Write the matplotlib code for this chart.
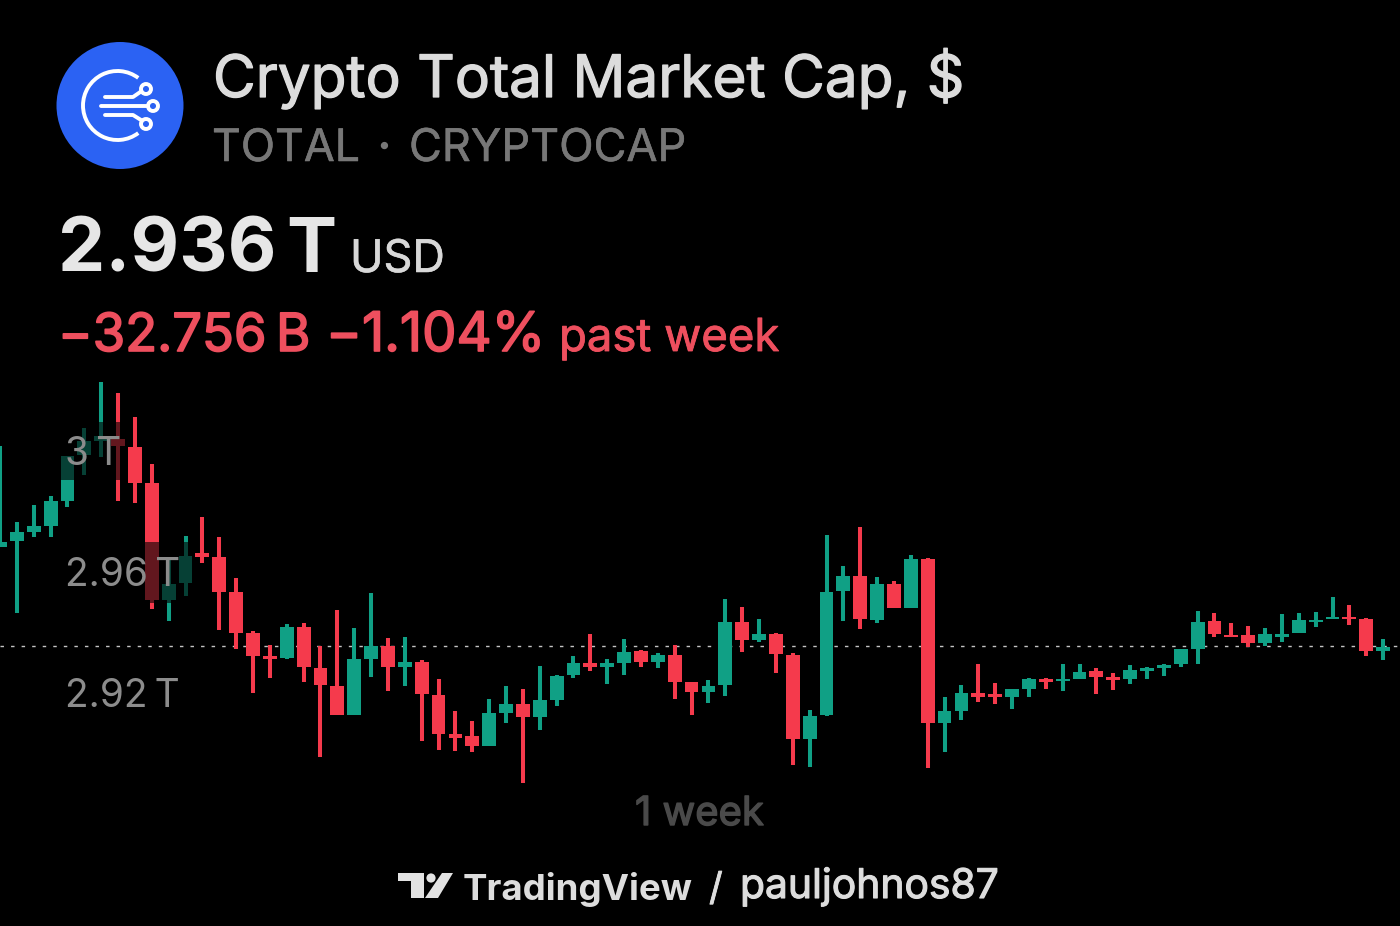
import matplotlib
matplotlib.use("Agg")
import matplotlib.pyplot as plt
import matplotlib.patheffects as pe
from matplotlib.patches import Circle, Polygon, Arc, Rectangle

# ---- data (USD billions) ----
highs = [3001.6,2976.5,2982.1,2985.1,2998.3,3007.6,3022.8,3019.2,3011.3,2995.7,2965.0,2971.9,2978.2,2971.6,2958.0,2940.5,2935.9,2942.8,2943.1,2935.5,2947.4,
         2941.5,2953.0,2938.2,2938.5,2930.9,2924.6,2914.1,2910.8,2918.0,2922.3,2921.3,2928.9,2925.9,2932.2,2939.5,2931.2,2937.8,2934.2,2933.2,2935.9,
         2923.6,2924.3,2951.0,2948.4,2944.4,2939.8,2933.2,2914.4,2972.2,2962.0,2974.9,2958.4,2957.0,2965.6,2964.6,2918.7,2922.7,2929.6,2923.3,2921.3,
         2924.9,2924.9,2929.6,2929.6,2928.3,2926.6,2929.3,2928.6,2929.6,2934.5,2947.1,2946.4,2943.1,2942.1,2941.5,2946.1,2946.4,2946.7,2951.7,2949.0,2944.7,2937.8]
body_tops = [2969.9,2973.2,2975.2,2983.5,2998.3,3003.3,3004.9,3003.9,3001.3,2989.4,2956.1,2965.3,2966.3,2965.0,2953.3,2939.8,2932.2,2941.8,2941.8,2928.3,2922.3,
             2931.2,2935.5,2935.5,2930.2,2930.2,2919.3,2906.5,2905.8,2913.4,2916.4,2916.4,2917.7,2925.6,2929.9,2929.9,2929.9,2933.5,2933.9,2932.5,2932.5,
             2923.6,2922.3,2943.4,2943.4,2939.5,2939.5,2932.5,2912.4,2953.3,2958.7,2958.7,2956.1,2956.1,2964.3,2964.3,2914.1,2920.0,2920.0,2919.7,2921.3,
             2924.6,2924.6,2924.6,2926.9,2927.3,2925.3,2927.6,2928.3,2929.3,2934.5,2943.4,2943.8,2939.2,2939.2,2939.5,2939.5,2944.1,2944.1,2945.1,2945.1,2944.4,2935.2]
body_bottoms = [2968.3,2970.3,2973.2,2975.2,2983.5,2998.6,3003.3,3001.6,2989.4,2950.7,2950.7,2956.4,2965.0,2953.3,2939.8,2932.2,2931.2,2931.6,2928.6,2922.7,2912.7,
                2912.7,2931.2,2928.6,2928.6,2919.7,2906.5,2905.2,2902.5,2902.5,2913.4,2912.1,2912.1,2917.7,2925.9,2928.6,2928.6,2929.9,2930.2,2930.2,2923.6,
                2920.3,2920.3,2922.7,2937.5,2937.5,2932.9,2904.8,2904.8,2912.7,2953.7,2944.4,2944.1,2948.1,2948.1,2910.1,2910.1,2914.1,2918.7,2918.7,2918.7,
                2921.3,2923.6,2923.9,2924.6,2925.3,2924.3,2924.6,2927.3,2928.3,2929.6,2934.5,2939.5,2938.5,2936.5,2936.5,2938.5,2939.8,2943.4,2944.4,2944.4,2933.9,2933.9]
lows = [2968.3,2946.4,2971.6,2971.6,2981.5,2992.0,2998.0,2983.5,2982.8,2947.7,2943.8,2952.0,2963.0,2940.8,2934.5,2920.0,2925.0,2931.2,2923.6,2898.9,2912.7,
        2912.7,2925.3,2920.7,2922.3,2904.2,2901.2,2900.9,2900.6,2902.5,2910.1,2890.2,2907.8,2915.7,2925.0,2927.3,2923.0,2925.9,2928.6,2928.3,2918.0,
        2912.7,2916.7,2919.0,2933.5,2936.9,2926.6,2896.2,2895.5,2912.4,2943.8,2941.1,2943.1,2948.1,2948.1,2895.2,2900.6,2911.1,2917.0,2916.4,2914.7,
        2918.7,2921.3,2920.7,2924.6,2919.7,2921.0,2923.0,2924.6,2925.6,2928.6,2929.6,2938.5,2938.5,2935.2,2935.5,2936.9,2939.8,2941.8,2944.4,2942.5,2932.2,2930.9]
directions = "GGGGGGGRRRGGRRRRRGRRRGGRGRRRRGGRGGGRGGRGRRGGRGRRGGGRGRGRGGRRGGRGGRRGGGGGRRRGGGGGRRG"
ticks = [2920, 2960, 3000]
tick_labels = ["2.92\u2009T", "2.96\u2009T", "3\u2009T"]
last_price = 2935.5

GREEN, RED = "#10A085", "#F53A4C"
FONT = "Inter"

fig = plt.figure(figsize=(14, 9.26), dpi=100, facecolor="black")
ax = fig.add_axes([0, 0, 1, 1], facecolor="black")
ax.set_xlim(0, 83.0)
ax.set_ylim(2842.97, 3149.09)
for s in ax.spines.values():
    s.set_visible(False)
ax.set_xticks([])

ax.axhline(last_price, color="#c4c4c4", lw=1.0, dashes=(2.5, 5.1), zorder=1)
xs = list(range(len(highs)))
colors = [GREEN if d == "G" else RED for d in directions]
ax.vlines(xs, lows, highs, colors=colors, lw=2.9, zorder=1.2)
ax.bar(xs, [t - b for t, b in zip(body_tops, body_bottoms)], bottom=body_bottoms,
       width=0.82, color=colors, zorder=1.3)

ax.set_yticks(ticks)
ax.set_yticklabels(tick_labels, fontfamily=FONT, fontsize=28, color="#8c8c8c", ha="left")
ax.tick_params(axis="y", length=0, pad=-47)
ax.set_axisbelow(False)

# overlay in pixels for header, logo and footer
ov = fig.add_axes([0, 0, 1, 1], facecolor="none")
ov.set_xlim(0, 1400)
ov.set_ylim(926, 0)
ov.axis("off")

# translucent plates behind the scale labels
for (x0, x1, y0, y1) in [(60, 125, 422, 480), (60, 192, 542, 603), (60, 192, 663, 723)]:
    ax.add_patch(Rectangle((x0, y0), x1 - x0, y1 - y0, fc="black", ec="none", alpha=0.6,
                           transform=ov.transData, zorder=2))

def T(x, y, s, px, color, stroke=0.0, weight="normal"):
    t = ov.text(x, y, s, family=FONT, fontsize=px * 0.72, color=color, weight=weight,
                va="baseline", ha="left")
    if stroke:
        t.set_path_effects([pe.withStroke(linewidth=stroke, foreground=color)])

T(213, 97, "Crypto Total Market Cap, $", 58.5, "#dcdcdc", stroke=0.9)
T(212, 161, "TOTAL", 44.7, "#777777", stroke=0.4)
T(378, 161, "\u00b7", 44.7, "#777777", stroke=1.0)
T(409, 161, "CRYPTOCAP", 45, "#777777", stroke=0.4)
T(58, 272, "2.936", 75, "#e6e6e6", weight="bold")
T(286, 272, "T", 75, "#e6e6e6", weight="bold")
T(350, 272, "USD", 45, "#d8d8d8", stroke=0.4)
T(58, 351, "\u221232.756\u2009B", 52.5, "#EE4F5E", stroke=1.2)
T(326, 351, "\u22121.104%", 54.5, "#EE4F5E", stroke=1.2)
T(559, 351, "past week", 45.5, "#EE4F5E", stroke=0.6)
T(635, 825, "1 week", 40, "#4a4a4a", stroke=1.0)
T(463, 900, "TradingView", 36.7, "#dddddd", weight="bold")
T(709, 900, "/", 38, "#dddddd", stroke=0.6)
T(740, 898, "pauljohnos87", 40.8, "#dddddd", stroke=0.8)

# TradingView mark
ov.add_patch(Polygon([(398, 873), (424, 873), (424, 898), (411, 898), (411, 881), (398, 881)], fc="#e2e2e2", ec="none"))
ov.add_patch(Circle((431, 878), 4.6, fc="#e2e2e2", ec="none"))
ov.add_patch(Polygon([(442, 873), (453, 873), (438, 898), (425, 898)], fc="#e2e2e2", ec="none"))

# header badge
ov.add_patch(Circle((120, 105.5), 63.5, fc="#2B62F3", ec="none"))
lw = 2.8
ov.add_patch(Arc((117.5, 105.5), 69, 69, theta1=53, theta2=307, ec="white", lw=lw))
ov.plot([101, 147], [106, 106], color="white", lw=lw, solid_capstyle="round")
ov.plot([105, 133, 141], [97, 97, 91.5], color="white", lw=lw, solid_capstyle="round")
ov.plot([105, 133, 141], [115, 115, 120], color="white", lw=lw, solid_capstyle="round")
for c in [(146, 89), (153, 106), (146, 124)]:
    ov.add_patch(Circle(c, 5, fc="#2B62F3", ec="white", lw=lw))

fig.savefig("out.png", dpi=100, facecolor="black")
